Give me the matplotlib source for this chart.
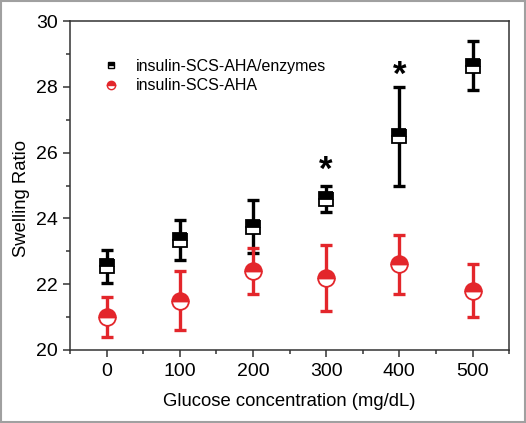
import matplotlib
matplotlib.use("Agg")
import matplotlib.pyplot as plt
from matplotlib.lines import Line2D
from matplotlib.patches import Rectangle
from matplotlib.ticker import MultipleLocator
from matplotlib.transforms import offset_copy

plt.rcParams['font.family'] = ['Liberation Sans', 'DejaVu Sans']

glucose = [0, 100, 200, 300, 400, 500]
enz_mean = [22.55, 23.35, 23.75, 24.6, 26.5, 28.65]
enz_err = [0.5, 0.6, 0.8, 0.4, 1.5, 0.75]
aha_mean = [21.0, 21.5, 22.4, 22.2, 22.6, 21.8]
aha_err = [0.6, 0.9, 0.7, 1.0, 0.9, 0.8]
star_x = [300, 400]
star_y = [25.62, 28.5]
labels = ["insulin-SCS-AHA/enzymes", "insulin-SCS-AHA"]

fig = plt.figure(figsize=(5.26, 4.23), dpi=100)
ax = fig.add_axes([0.133, 0.1726, 0.835, 0.7774])

red = '#e3262b'
ax.errorbar(glucose, enz_mean, yerr=enz_err, fmt='none', ecolor='black',
            elinewidth=2.4, capsize=4, capthick=2.4, zorder=2)
ax.plot(glucose, enz_mean, ls='none', marker='s', markersize=10,
        fillstyle='top', markerfacecolor='black', markerfacecoloralt='white',
        markeredgecolor='black', markeredgewidth=1.3, zorder=3)
ax.errorbar(glucose, aha_mean, yerr=aha_err, fmt='none', ecolor=red,
            elinewidth=2.4, capsize=4, capthick=2.4, zorder=4)
ax.plot(glucose, aha_mean, ls='none', marker='o', markersize=12,
        fillstyle='top', markerfacecolor=red, markerfacecoloralt='white',
        markeredgecolor=red, markeredgewidth=1.3, zorder=5)

star_tr = offset_copy(ax.transData, fig=fig, x=0, y=-5, units='dots')
for sx, sy in zip(star_x, star_y):
    ax.text(sx, sy, '*', ha='center', va='center', fontsize=25,
            fontweight='bold', color='black', transform=star_tr)

h1 = Line2D([], [], ls='none', marker='s', markersize=5, fillstyle='top',
            markerfacecolor='black', markerfacecoloralt='white',
            markeredgecolor='black', markeredgewidth=1)
h2 = Line2D([], [], ls='none', marker='o', markersize=6, fillstyle='top',
            markerfacecolor=red, markerfacecoloralt='white',
            markeredgecolor=red, markeredgewidth=1)
ax.legend([h1, h2], labels, loc='upper left', bbox_to_anchor=(0.04, 0.93),
          frameon=False, fontsize=11.5, handlelength=1.2, handletextpad=0.9,
          labelspacing=0.3)

ax.set_xlim(-50, 550)
ax.set_ylim(20, 30)
ax.set_xticks(glucose)
ax.set_yticks([20, 22, 24, 26, 28, 30])
ax.xaxis.set_minor_locator(MultipleLocator(50))
ax.yaxis.set_minor_locator(MultipleLocator(1))
ax.tick_params(which='both', direction='out', top=False, right=False,
               labelsize=14, color='#333333', width=1.1)
ax.tick_params(which='major', length=5)
ax.tick_params(which='minor', length=3)
ax.tick_params(axis='x', which='major', pad=4.5)
for s in ax.spines.values():
    s.set_linewidth(1.1)
    s.set_color('#333333')

ax.set_xlabel('Glucose concentration (mg/dL)', fontsize=13.3, labelpad=9)
ax.set_ylabel('Swelling Ratio', fontsize=13.3)
ax.yaxis.set_label_coords(-0.09, 0.46)

fig.patches.append(Rectangle((0.002, 0.002), 0.996, 0.996, transform=fig.transFigure,
                             fill=False, edgecolor='#a0a0a0', linewidth=1.5))

fig.savefig('out.png', dpi=100)
